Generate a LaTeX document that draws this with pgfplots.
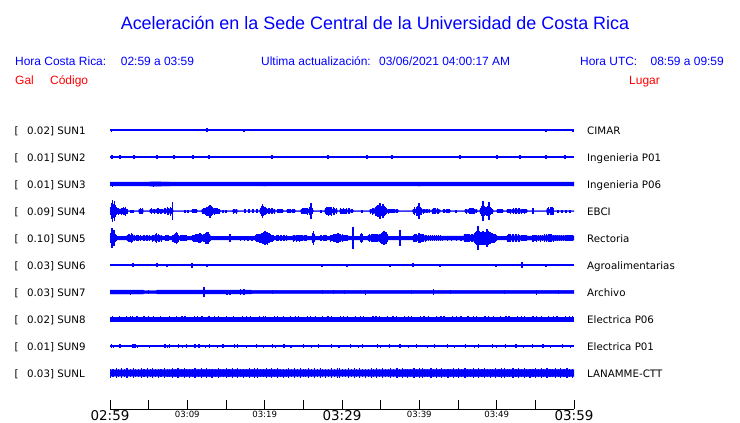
\documentclass[border=0pt]{standalone}
\usepackage{fontspec}
\setmainfont{Liberation Sans}
\newfontfamily\dv{DejaVu Sans}
\usepackage{pgfplots}
\pgfplotsset{compat=1.18}
\usepackage{pgfplotstable}
\usepgfplotslibrary{fillbetween}
\definecolor{tblue}{RGB}{0,0,255}
\definecolor{tred}{RGB}{255,0,0}

% t = minutes after 02:59 ; a = half amplitude (px)
% ---- cores (solid band of each trace) ----
\pgfplotstableread[row sep=\\]{t a\\ 0 0.45\\ 60 0.45\\}\coreThin
\pgfplotstableread[row sep=\\]{t a\\ 0 2.0\\ 4 1.8\\ 5.5 2.1\\ 10 1.9\\ 20 2.0\\ 30 1.9\\ 40 2.0\\ 50 1.9\\ 60 2.0\\}\coreC
\pgfplotstableread[row sep=\\]{t a\\
0 2.5\\ 0.3 4\\ 0.7 3.5\\ 1.0 2\\ 2.2 2\\ 2.33 0.5\\ 3.69 0.5\\ 3.75 1.5\\ 4.27 1.5\\ 4.33 0.5\\ 5.11 0.5\\ 5.17 1.5\\ 7.2 1.5\\ 7.5 2.2\\ 8.0 2.2\\ 8.2 0.5\\
10.54 0.5\\ 10.6 1\\ 11.25 1\\ 11.31 0.5\\ 11.83 0.5\\ 11.9 1.5\\ 12.6 2.5\\ 13.1 3\\ 13.6 2\\ 14.22 1.2\\ 14.29 0.5\\ 15.84 0.5\\ 15.91 1.3\\ 16.42 1.3\\ 16.49 0.5\\
19.33 0.5\\ 19.4 1.5\\ 19.75 3\\ 20.1 2\\ 21.34 1.3\\ 21.4 0.5\\ 21.53 0.5\\ 21.6 1\\ 22.37 1\\ 22.44 0.5\\ 22.82 0.5\\ 22.89 1\\ 23.92 1\\ 23.99 0.5\\
24.63 0.5\\ 24.7 1.3\\ 25.9 2\\ 26.25 1\\ 26.32 0.5\\ 27.74 0.5\\ 27.8 1.5\\ 28.4 2.3\\ 29.35 1.5\\ 29.42 0.5\\ 29.68 0.5\\ 29.74 1.5\\ 31.42 1\\ 31.49 0.5\\
33.56 0.5\\ 33.62 1.3\\ 34.7 3\\ 35.3 3\\ 35.95 1.3\\ 37.24 1\\ 37.31 0.5\\ 39.12 0.5\\ 39.18 1.3\\ 39.9 2.5\\ 40.4 1.5\\ 41.38 1\\ 41.44 0.5\\
41.57 0.5\\ 41.64 1.3\\ 42.67 1.3\\ 42.74 0.5\\ 43.00 0.5\\ 43.06 1\\ 43.97 1\\ 44.03 0.5\\ 45.84 0.5\\ 45.91 1\\ 46.8 1.5\\ 47.46 1.2\\ 47.52 0.5\\
47.78 0.5\\ 47.85 1.5\\ 48.3 3.5\\ 48.9 3\\ 49.53 1.2\\ 49.59 0.5\\ 49.98 0.5\\ 50.04 1\\ 50.82 1\\ 50.88 0.5\\ 51.27 0.5\\ 51.34 1\\ 52.5 1.5\\ 53.92 1\\ 53.99 0.5\\
56.44 0.5\\ 56.51 1.8\\ 57.28 1.8\\ 57.35 0.5\\ 60 0.5\\}\coreD
\pgfplotstableread[row sep=\\]{t a\\
0 3\\ 0.3 5\\ 0.6 3.5\\ 0.85 1.8\\ 2.13 1.8\\ 2.2 2.2\\ 2.7 2.8\\ 3.2 2.0\\ 3.3 1.8\\ 4.2 1.8\\ 4.3 2.0\\ 5.17 2.0\\ 5.24 1.8\\ 5.36 1.8\\ 5.45 2.2\\ 6.1 2.8\\ 6.79 1.8\\
8.08 1.8\\ 8.2 2.5\\ 8.55 3.2\\ 8.86 1.8\\ 10.54 1.8\\ 10.6 2.0\\ 11.6 2.8\\ 12.5 3.3\\ 13.06 2\\ 13.13 1.8\\ 18.69 1.8\\ 18.8 2.2\\ 20.0 3.5\\ 21.1 1.8\\
23.6 1.8\\ 23.66 2.2\\ 25.47 2\\ 25.54 1.8\\ 26.06 1.8\\ 26.3 3\\ 26.57 1.8\\ 28.39 1.8\\ 28.5 2.2\\ 29.5 2.8\\ 30.6 2\\ 30.97 1.8\\
33.30 1.8\\ 33.4 2.2\\ 35.4 3.5\\ 36.01 1.8\\ 39.12 1.8\\ 39.2 2.2\\ 40.0 2.8\\ 41.0 2.0\\ 45.65 2.0\\ 46.0 2.5\\ 47.5 3.5\\ 48.8 3.8\\ 49.8 2.5\\ 50.11 1.8\\
51.28 1.8\\ 51.34 2.2\\ 53.9 2.0\\ 54.7 2.0\\ 56.9 2.4\\ 60 2.1\\}\coreE
\pgfplotstableread[row sep=\\]{t a\\ 0 2.0\\ 4.3 2.0\\ 4.4 1.5\\ 6.0 1.5\\ 6.1 1.9\\ 18 1.9\\ 18.5 1.7\\ 60 1.7\\}\coreG
\pgfplotstableread[row sep=\\]{t a\\ 0 1.7\\ 60 1.7\\}\coreH
\pgfplotstableread[row sep=\\]{t a\\ 0 0.55\\ 60 0.55\\}\coreI
\pgfplotstableread[row sep=\\]{t a\\ 0 3.2\\ 15 3.4\\ 30 3.2\\ 45 3.4\\ 60 3.3\\}\coreL

% ---- spikes (vertical strokes) ----
\pgfplotstableread[row sep=\\]{t a\\ 0.15 1.5\\ 12.54 1.6\\ 17.33 1.5\\ 23.79 1.3\\ 33.23 1.3\\ 40.09 1.3\\ 48.75 1.3\\ 56.38 1.5\\ 59.87 1.5\\}\spA
\pgfplotstableread[row sep=\\]{t a\\
0.2 1.6\\ 0.3 1.6\\ 1.24 1.6\\ 1.34 1.6\\ 3.05 1.6\\ 3.15 1.6\\ 6.03 1.6\\ 6.13 1.6\\ 8.23 1.6\\ 8.33 1.6\\ 10.68 1.6\\ 10.78 1.6\\
12.75 1.6\\ 12.85 1.6\\ 20.90 1.6\\ 21.0 1.6\\ 28.14 1.6\\ 28.24 1.6\\ 33.18 1.6\\ 33.28 1.6\\ 36.42 1.6\\ 36.52 1.6\\ 45.21 1.6\\ 45.31 1.6\\
49.99 1.6\\ 50.09 1.6\\ 52.97 1.6\\ 53.07 1.6\\ 56.33 1.6\\ 56.43 1.6\\ 58.79 1.6\\ 58.89 1.6\\}\spB
\pgfplotstableread[row sep=\\]{t a\\ 0.3 2.5\\ 1.5 2.4\\ 5.6 2.5\\ 5.8 2.4\\ 13 2.3\\ 25 2.3\\ 37 2.3\\ 49 2.4\\}\spC
\pgfplotstableread[row sep=\\]{t a\\
0.05 4\\ 0.2 8\\ 0.35 11\\ 0.45 7\\ 0.55 10\\ 0.7 6\\ 0.85 4\\ 1.0 3\\ 1.15 3.5\\ 1.3 2.5\\ 1.45 3.5\\ 1.6 3\\ 1.75 4\\ 1.9 3.5\\ 2.05 4.5\\ 2.2 2.5\\
2.72 1.5\\ 2.97 1.5\\ 3.8 2.5\\ 3.95 3\\ 4.1 2.5\\ 4.25 3\\
5.2 2\\ 5.4 2.8\\ 5.6 2\\ 5.8 2.5\\ 6.0 2.2\\ 6.2 2.8\\ 6.4 2\\ 6.6 2.5\\ 6.8 2.3\\ 7.0 2.6\\ 7.2 3\\ 7.4 4\\ 7.6 3.5\\ 7.8 4.5\\ 7.95 3\\ 8.06 9\\
9.7 1.5\\ 10.09 1.5\\ 10.65 2\\ 10.85 1.8\\ 11.05 2\\ 11.2 1.7\\
11.95 2.5\\ 12.15 3\\ 12.35 3.5\\ 12.55 4.5\\ 12.75 5\\ 12.93 6.5\\ 13.1 5\\ 13.3 4\\ 13.5 3.5\\ 13.7 3\\ 13.9 3.2\\ 14.1 2.5\\
14.61 1.5\\ 15.0 1.5\\ 15.95 2.5\\ 16.15 2\\ 16.35 2.5\\ 17.46 2\\ 17.97 2\\ 18.49 2\\ 19.01 2\\
19.45 3\\ 19.6 5\\ 19.75 7\\ 19.9 5\\ 20.05 4\\ 20.25 3\\ 20.45 3.2\\ 20.65 2.8\\ 20.85 3.2\\ 21.05 3\\ 21.25 2.5\\
21.65 2\\ 21.85 1.6\\ 22.05 2\\ 22.25 1.8\\ 22.95 2\\ 23.15 1.7\\ 23.35 2\\ 23.55 1.8\\ 23.8 2\\
24.75 2.5\\ 24.95 2.8\\ 25.15 3\\ 25.35 3.2\\ 25.55 3.5\\ 25.75 4\\ 25.99 8\\ 26.15 3\\ 27.28 1.5\\
27.85 3\\ 28.05 3.8\\ 28.25 4.5\\ 28.45 4\\ 28.65 4.5\\ 28.85 4\\ 29.05 3.5\\ 29.25 3\\
29.8 3\\ 30.0 2.5\\ 30.2 2.8\\ 30.4 2.5\\ 30.6 3\\ 30.8 2.6\\ 31.0 3\\ 31.2 2.4\\ 31.4 2\\ 32.59 1.5\\
33.7 2.5\\ 33.9 3.5\\ 34.1 3\\ 34.3 4.5\\ 34.5 5\\ 34.66 6\\ 34.8 5\\ 34.91 8\\ 35.05 5\\ 35.2 6\\ 35.3 7\\ 35.45 5\\ 35.6 4\\ 35.8 3\\ 36.0 2.5\\ 36.2 2\\ 36.4 1.8\\ 36.6 2\\ 36.8 1.7\\ 37.0 2\\ 37.2 1.8\\
39.2 2.5\\ 39.4 4\\ 39.6 4.5\\ 39.8 5\\ 39.96 8\\ 40.1 4\\ 40.3 3.5\\ 40.5 2.5\\ 40.7 2\\ 40.9 1.8\\ 41.1 2\\ 41.3 1.7\\
41.7 2.5\\ 41.9 2.8\\ 42.1 3\\ 42.3 2.6\\ 42.5 2.5\\ 43.1 2\\ 43.3 1.7\\ 43.5 2\\ 43.7 1.8\\ 43.9 2\\ 44.74 1.5\\
45.95 2\\ 46.15 2.5\\ 46.35 2.2\\ 46.55 2.8\\ 46.75 3\\ 46.95 2.6\\ 47.15 2.5\\ 47.35 2.2\\
47.9 3\\ 48.1 5\\ 48.23 10\\ 48.4 5\\ 48.6 4\\ 48.75 4.5\\ 48.88 5\\ 49.01 9\\ 49.15 4\\ 49.3 3\\ 49.5 2.5\\
50.1 2\\ 50.3 1.7\\ 50.5 2\\ 50.7 1.8\\ 51.4 2\\ 51.6 2.3\\ 51.8 2.5\\ 52.0 2.2\\ 52.2 2.8\\ 52.4 3\\ 52.6 2.6\\ 52.8 3\\ 53.0 2.7\\ 53.2 2.5\\ 53.4 2.2\\ 53.6 2.5\\ 53.8 2\\
54.70 3\\ 56.55 3.5\\ 56.75 4\\ 56.95 3.6\\ 57.15 4\\ 57.3 3.5\\ 57.93 1.5\\ 58.45 1.5\\ 58.97 1.5\\ 59.48 1.5\\}\spD
\pgfplotstableread[row sep=\\]{t a\\
0.05 5\\ 0.15 9\\ 0.27 10\\ 0.4 6\\ 0.52 8\\ 0.65 4\\ 0.78 3\\
2.25 3\\ 2.45 4\\ 2.6 3.5\\ 2.75 5\\ 2.95 4\\ 3.15 3\\ 3.5 3\\ 3.7 2.6\\ 3.9 3\\ 4.3 3\\ 4.5 2.6\\ 4.7 3.2\\ 4.9 2.7\\ 5.1 3\\
5.45 3.5\\ 5.65 3\\ 5.85 4\\ 6.05 5\\ 6.25 4\\ 6.45 3.5\\ 6.65 3.5\\ 7.15 3\\ 7.35 2.6\\ 7.5 3\\
8.15 3.5\\ 8.3 4.5\\ 8.45 5\\ 8.55 6\\ 8.7 5\\ 8.8 3.5\\ 9.1 3\\ 9.3 2.6\\ 9.5 3\\ 9.7 2.7\\ 9.9 3\\
10.65 3\\ 10.85 3.5\\ 11.05 4\\ 11.25 3.6\\ 11.45 4.5\\ 11.65 5\\ 11.85 4\\ 12.05 3.6\\ 12.25 4\\ 12.42 5.5\\ 12.54 6\\ 12.67 6\\ 12.85 4\\ 13.0 2.5\\
15.52 4\\ 16.85 2.5\\ 17.1 2.3\\ 17.35 2.5\\ 17.6 2.3\\ 17.85 2.5\\ 18.1 2.3\\ 18.35 2.5\\
18.8 3\\ 19.0 3.6\\ 19.2 4\\ 19.4 4.5\\ 19.55 5\\ 19.7 5.5\\ 19.8 6\\ 19.95 6.5\\ 20.05 7\\ 20.2 6\\ 20.35 6.5\\ 20.5 5\\ 20.65 5.2\\ 20.8 4\\ 20.95 3.5\\ 21.1 3\\
21.6 3\\ 21.8 2.6\\ 22.0 3\\ 22.2 2.7\\ 22.4 3\\ 22.6 2.6\\ 22.85 3\\
23.7 3.5\\ 23.9 3\\ 24.1 3.5\\ 24.3 3.2\\ 24.5 3.5\\ 24.7 3\\ 24.9 3.2\\ 25.1 2.8\\ 25.3 3\\ 25.45 2.7\\
26.15 5\\ 26.31 7\\ 26.45 4\\ 27.2 3\\ 27.4 2.6\\ 27.6 3\\ 27.8 2.7\\ 28.0 3\\
28.5 3.5\\ 28.7 3.2\\ 28.9 4\\ 29.1 3.6\\ 29.3 4.5\\ 29.48 5\\ 29.65 4.2\\ 29.85 4\\ 30.05 3.6\\ 30.25 3\\ 30.45 3.2\\ 30.65 3\\
31.42 11\\ 32.35 4\\ 32.52 5\\ 32.7 4\\
33.4 3\\ 33.6 3.6\\ 33.8 4\\ 34.0 3.6\\ 34.2 4\\ 34.4 3.8\\ 34.6 4.2\\ 34.8 4\\ 34.95 4.5\\ 35.1 5.5\\ 35.2 6\\ 35.35 6.5\\ 35.43 7\\ 35.55 5.5\\ 35.7 6\\ 35.85 4\\
37.50 8\\ 39.25 3.5\\ 39.45 3.6\\ 39.65 4\\ 39.85 4.5\\ 39.96 5\\ 40.15 4.5\\ 40.35 4\\ 40.55 4\\ 40.75 3.5\\ 40.95 3\\
41.2 3\\ 41.45 2.7\\ 41.7 3\\ 41.95 2.7\\ 42.2 3\\ 42.45 2.7\\ 42.7 3\\ 43.0 2.5\\ 43.3 2.3\\ 43.6 2.5\\ 43.9 2.3\\ 44.2 2.5\\ 44.5 2.3\\ 44.8 2.5\\ 45.1 2.3\\ 45.4 2.5\\
45.9 4\\ 46.1 3.6\\ 46.3 4\\ 46.5 3.8\\ 46.7 4\\ 46.9 4.2\\ 47.1 5\\ 47.3 6\\ 47.46 7\\ 47.59 12\\ 47.72 7\\ 47.85 6\\ 47.97 6.5\\ 48.1 6\\ 48.23 7\\ 48.36 6\\ 48.49 6.5\\ 48.62 6\\ 48.75 9\\ 48.88 7\\ 49.0 6\\ 49.14 6\\ 49.3 5\\ 49.5 5\\ 49.65 4.5\\ 49.8 4\\ 49.95 3\\
51.4 3.5\\ 51.6 3.8\\ 51.8 4\\ 52.0 3.7\\ 52.2 4\\ 52.4 3.8\\ 52.6 4\\ 52.8 3.6\\ 53.0 3.5\\ 53.2 3.2\\ 53.4 3\\ 53.6 3.2\\ 53.8 3\\
54.7 3.5\\ 54.95 3.2\\ 55.2 3.5\\ 55.45 3.2\\ 55.7 3.5\\ 55.95 3.4\\ 56.2 3.7\\ 56.45 4\\ 56.7 3.8\\ 56.9 4\\ 57.1 3.6\\ 57.3 3.5\\
57.6 3\\ 57.85 2.8\\ 58.1 3\\ 58.35 2.8\\ 58.6 3\\ 58.85 2.8\\ 59.1 3\\ 59.35 2.8\\ 59.6 3\\ 59.85 3.2\\}\spE
\pgfplotstableread[row sep=\\]{t a\\
2.92 2.0\\ 3.02 2.0\\ 6.03 2.0\\ 6.13 2.0\\ 7.37 1.5\\ 10.55 2.5\\ 10.65 2.5\\ 12.54 1.5\\ 18.10 1.3\\ 23.79 1.3\\ 27.41 1.5\\ 30.65 1.5\\
36.21 1.5\\ 39.13 1.8\\ 39.23 1.8\\ 42.67 1.5\\ 49.91 1.5\\ 53.18 2.8\\ 53.28 2.8\\ 53.38 2.8\\ 56.38 1.5\\ 58.97 1.3\\}\spF
\pgfplotstableread[row sep=\\]{t a\\
1.2 2.4\\ 2.6 2.5\\ 5 2\\ 12.16 5\\ 15.13 2.5\\ 15.52 2.5\\ 16.9 3\\ 17.3 3\\ 17.4 2.8\\ 21 2.2\\ 27.5 2.2\\ 28.9 2.1\\ 30.3 2.3\\ 33 2.5\\ 39 2.2\\ 41.8 2.8\\ 44 2.2\\ 51 2.4\\ 55.2 2.5\\ 58 2.2\\}\spG
\pgfplotstableread[row sep=\\]{t a\\
0.3 3\\ 0.7 2.5\\ 1.2 3.2\\ 1.5 2.4\\ 2.1 3\\ 2.6 3.3\\ 2.9 2.6\\ 3.5 3\\ 4.1 2.4\\ 4.4 3.2\\ 5.0 2.6\\ 5.6 3\\ 6.1 2.4\\ 6.5 3.3\\ 7.2 2.5\\ 7.7 3\\ 8.0 2.4\\ 8.6 3.1\\ 9.3 2.6\\ 9.7 3.3\\
10.2 2.4\\ 10.9 3\\ 11.3 2.6\\ 11.9 3.2\\ 12.4 2.4\\ 12.8 3\\ 13.5 2.6\\ 14.0 3.3\\ 14.4 2.4\\ 15.1 3\\ 15.6 2.5\\ 16.0 3.2\\ 16.7 2.4\\ 17.1 3\\ 17.6 2.6\\ 18.2 3.3\\ 18.6 2.4\\ 19.3 3\\ 19.8 2.6\\
20.1 3.1\\ 20.8 2.4\\ 21.3 3\\ 21.7 2.6\\ 22.4 3.3\\ 22.9 2.4\\ 23.3 3\\ 24.0 2.6\\ 24.4 3.2\\ 25.0 2.4\\ 25.5 3\\ 25.9 2.6\\ 26.6 3.3\\ 27.1 2.4\\ 27.5 3\\ 28.2 2.6\\ 28.6 3.1\\ 29.1 2.4\\ 29.8 3\\
30.2 2.6\\ 30.7 3.3\\ 31.3 2.4\\ 31.7 3\\ 32.4 2.6\\ 32.8 3.2\\ 33.3 2.4\\ 34.0 3\\ 34.4 2.6\\ 34.9 3.3\\ 35.5 2.4\\ 35.9 3\\ 36.6 2.6\\ 37.0 3.1\\ 37.5 2.4\\ 38.1 3\\ 38.6 2.6\\ 39.0 3.3\\ 39.7 2.4\\
40.1 3\\ 40.6 2.6\\ 41.2 3.2\\ 41.7 2.4\\ 42.2 3\\ 42.8 2.6\\ 43.2 3.3\\ 43.9 2.4\\ 44.3 3\\ 44.8 2.6\\ 45.4 3.1\\ 45.9 2.4\\ 46.3 3\\ 47.0 2.6\\ 47.4 3.3\\ 48.0 2.4\\ 48.5 3\\ 48.9 2.6\\ 49.6 3.2\\
50.1 2.4\\ 50.5 3\\ 51.2 2.6\\ 51.6 3.3\\ 52.1 2.4\\ 52.7 3\\ 53.2 2.6\\ 53.6 3.1\\ 54.3 2.4\\ 54.7 3\\ 55.2 2.6\\ 55.8 3.3\\ 56.3 2.4\\ 56.7 3\\ 57.4 2.6\\ 57.8 3.2\\ 58.3 2.4\\ 58.9 3\\ 59.4 2.6\\ 59.8 3\\}\spH
\pgfplotstableread[row sep=\\]{t a\\
0.2 1.8\\ 0.5 1.5\\ 1.3 1.6\\ 2.9 1.8\\ 3.1 2.0\\ 3.3 1.7\\ 3.6 1.5\\ 5.1 1.5\\ 5.9 1.4\\ 7.1 1.8\\ 7.4 1.5\\ 7.7 1.7\\ 8.0 1.4\\ 8.9 1.6\\ 9.4 1.5\\ 9.9 1.8\\ 10.3 1.4\\ 11.0 1.6\\ 11.5 1.8\\
12.4 1.5\\ 12.9 1.7\\ 13.9 1.5\\ 14.6 1.8\\ 15.2 1.4\\ 16.1 1.6\\ 16.5 1.8\\ 17.6 1.5\\ 18.5 1.4\\ 18.9 1.7\\ 19.9 1.5\\ 21.0 1.8\\ 21.4 1.5\\ 22.5 1.6\\ 23.4 1.5\\ 24.5 1.4\\ 25.0 1.8\\
26.1 1.5\\ 27.0 1.6\\ 27.4 1.4\\ 28.6 1.8\\ 29.6 1.5\\ 30.0 1.4\\ 31.1 1.6\\ 32.1 1.5\\ 32.6 1.8\\ 33.5 1.4\\ 34.6 1.6\\ 35.0 1.5\\ 36.1 1.8\\ 37.0 1.4\\ 37.5 1.6\\ 38.6 1.5\\ 39.6 1.8\\
40.0 1.4\\ 41.1 1.5\\ 42.0 1.6\\ 42.4 1.4\\ 43.6 1.8\\ 44.5 1.5\\ 45.0 1.4\\ 46.0 1.6\\ 47.1 1.5\\ 47.6 1.8\\ 48.5 1.4\\ 49.5 1.6\\ 50.0 1.5\\ 51.1 1.8\\ 52.1 1.4\\ 52.5 1.6\\ 53.5 1.5\\
54.6 1.8\\ 55.1 1.4\\ 56.0 1.6\\ 57.0 1.5\\ 57.5 1.4\\ 58.5 1.6\\ 59.5 1.5\\}\spI
\pgfplotstableread[row sep=\\]{t a\\
0.1 4.5\\ 0.4 3.8\\ 0.8 5\\ 1.1 4.2\\ 1.5 4.8\\ 1.9 3.9\\ 2.2 4.6\\ 2.6 4\\ 3.0 5\\ 3.3 3.8\\ 3.7 4.4\\ 4.1 4.8\\ 4.4 3.9\\ 4.8 4.6\\ 5.2 4\\ 5.5 5\\ 5.9 3.8\\ 6.3 4.5\\ 6.6 4.1\\ 7.0 4.8\\
7.4 3.9\\ 7.7 4.4\\ 8.1 5\\ 8.5 4\\ 8.8 4.6\\ 9.2 3.8\\ 9.6 4.8\\ 9.9 4.2\\ 10.3 4.5\\ 10.7 3.9\\ 11.0 5\\ 11.4 4\\ 11.8 4.6\\ 12.1 4.2\\ 12.5 4.8\\ 12.9 3.8\\ 13.2 4.5\\ 13.6 4.1\\ 14.0 5\\
14.3 3.9\\ 14.7 4.4\\ 15.1 4.8\\ 15.4 4\\ 15.8 4.6\\ 16.2 3.8\\ 16.5 5\\ 16.9 4.2\\ 17.3 4.5\\ 17.6 3.9\\ 18.0 4.8\\ 18.4 4\\ 18.7 4.6\\ 19.1 5\\ 19.5 3.8\\ 19.8 4.4\\ 20.2 4.8\\ 20.6 4\\
20.9 4.6\\ 21.3 3.9\\ 21.7 5\\ 22.0 4.2\\ 22.4 4.5\\ 22.8 3.8\\ 23.1 4.8\\ 23.5 4.1\\ 23.9 4.6\\ 24.2 4\\ 24.6 5\\ 25.0 3.9\\ 25.3 4.4\\ 25.7 4.8\\ 26.1 4\\ 26.4 4.6\\ 26.8 3.8\\ 27.2 5\\
27.5 4.2\\ 27.9 4.5\\ 28.3 3.9\\ 28.6 4.8\\ 29.0 4\\ 29.4 4.6\\ 29.7 5\\ 30.1 3.8\\ 30.5 4.4\\ 30.8 4.8\\ 31.2 4\\ 31.6 4.6\\ 31.9 3.9\\ 32.3 5\\ 32.7 4.2\\ 33.0 4.5\\ 33.4 3.8\\ 33.8 4.8\\
34.1 4.1\\ 34.5 4.6\\ 34.9 4\\ 35.2 5\\ 35.6 3.9\\ 36.0 4.4\\ 36.3 4.8\\ 36.7 4\\ 37.1 4.6\\ 37.4 3.8\\ 37.8 5\\ 38.2 4.2\\ 38.5 4.5\\ 38.9 3.9\\ 39.3 4.8\\ 39.6 4\\ 40.0 4.6\\ 40.4 5\\
40.7 3.8\\ 41.1 4.4\\ 41.5 4.8\\ 41.8 4\\ 42.2 4.6\\ 42.6 3.9\\ 42.9 5\\ 43.3 4.2\\ 43.7 4.5\\ 44.0 3.8\\ 44.4 4.8\\ 44.8 4.1\\ 45.1 4.6\\ 45.5 4\\ 45.9 5\\ 46.2 3.9\\ 46.6 4.4\\ 47.0 4.8\\
47.3 4\\ 47.7 4.6\\ 48.1 3.8\\ 48.4 5\\ 48.8 4.2\\ 49.2 4.5\\ 49.5 3.9\\ 49.9 4.8\\ 50.3 4\\ 50.6 4.6\\ 51.0 5\\ 51.4 3.8\\ 51.7 4.4\\ 52.1 4.8\\ 52.5 4\\ 52.8 4.6\\ 53.2 3.9\\ 53.6 5\\
53.9 4.2\\ 54.3 4.5\\ 54.7 3.8\\ 55.0 4.8\\ 55.4 4.1\\ 55.8 4.6\\ 56.1 4\\ 56.5 5\\ 56.9 3.9\\ 57.2 4.4\\ 57.6 4.8\\ 58.0 4\\ 58.3 4.6\\ 58.7 3.8\\ 59.1 5\\ 59.4 4.2\\ 59.8 4.5\\}\spL

% #1 name, #2 baseline (negative px), #3 core table, #4 spike table
\newcommand{\trace}[4]{%
  \addplot[name path=#1u, tblue, line width=0.4pt] table[x=t, y expr={#2+\thisrow{a}}] {#3};
  \addplot[name path=#1l, tblue, line width=0.4pt] table[x=t, y expr={#2-\thisrow{a}}] {#3};
  \addplot[fill=tblue, draw=none] fill between[of=#1u and #1l];
  \addplot[draw=none, mark=none, error bars/.cd, y dir=both, y explicit, error mark=none,
    error bar style={draw=tblue, line width=1.2bp, solid}] table[x=t, y expr={#2}, y error=a] {#4};
}

\newcommand{\rowlabel}[4]{% y baseline px, value, code, place
  \node[anchor=base west, inner sep=0pt, font=\dv\fontsize{10.3}{12}\selectfont] at (14.5bp,-#1bp) {[};
  \node[anchor=base west, inner sep=0pt, font=\dv\fontsize{10.3}{12}\selectfont] at (27bp,-#1bp) {#2] #3};
  \node[anchor=base west, inner sep=0pt, font=\dv\fontsize{10.3}{12}\selectfont] at (587bp,-#1bp) {#4};
}

\begin{document}
\begin{tikzpicture}
\path (0,0) rectangle (740bp,-423bp);
\begin{axis}[
  at={(110bp,-409bp)}, anchor=south west,
  scale only axis, width=464bp, height=309bp,
  xmin=0, xmax=60, ymin=-409, ymax=-100,
  axis x line=bottom, axis y line=none,
  axis line style={-, black, line width=0.8pt},
  xtick={0,5,...,60},
  xticklabels={{\fontsize{13.5}{14}\selectfont 02:59},,{03:09},,{03:19},,{\fontsize{13.5}{14}\selectfont 03:29},,{03:39},,{03:49},,{\fontsize{13.5}{14}\selectfont 03:59}},
  xticklabel style={font=\dv\fontsize{8.6}{9}\selectfont, inner sep=1.5bp, anchor=north},
  tick align=inside, major tick length=9bp,
  tick style={black, line width=0.8pt},
  ytick=\empty,
]
\trace{a}{-130}{\coreThin}{\spA}
\trace{b}{-157}{\coreThin}{\spB}
\trace{c}{-184}{\coreC}{\spC}
\trace{d}{-211}{\coreD}{\spD}
\trace{e}{-238}{\coreE}{\spE}
\trace{f}{-265}{\coreThin}{\spF}
\trace{g}{-292}{\coreG}{\spG}
\trace{h}{-319}{\coreH}{\spH}
\trace{i}{-346}{\coreI}{\spI}
\trace{l}{-373}{\coreL}{\spL}
\end{axis}

\node[anchor=base, inner sep=0pt, text=tblue, font=\fontsize{18}{20}\selectfont] at (375bp,-29bp) {Aceleración en la Sede Central de la Universidad de Costa Rica};
\begin{scope}[every node/.style={anchor=base west, inner sep=0pt, text=tblue, font=\fontsize{12}{14}\selectfont}]
\node at (15bp,-65bp) {Hora Costa Rica:};
\node at (120.7bp,-65bp) {02:59 a 03:59};
\node at (261bp,-65bp) {Ultima actualización:};
\node at (379bp,-65bp) {03/06/2021 04:00:17 AM};
\node at (580bp,-65bp) {Hora UTC:};
\node[anchor=base east] at (724bp,-65bp) {08:59 a 09:59};
\node[text=tred] at (15bp,-84.5bp) {Gal};
\node[text=tred] at (50bp,-84.5bp) {Código};
\node[text=tred] at (629bp,-84.5bp) {Lugar};
\end{scope}

\rowlabel{134}{0.02}{SUN1}{CIMAR}
\rowlabel{161}{0.01}{SUN2}{Ingenieria P01}
\rowlabel{188}{0.01}{SUN3}{Ingenieria P06}
\rowlabel{215}{0.09}{SUN4}{EBCI}
\rowlabel{242}{0.10}{SUN5}{Rectoria}
\rowlabel{269}{0.03}{SUN6}{Agroalimentarias}
\rowlabel{296}{0.03}{SUN7}{Archivo}
\rowlabel{323}{0.02}{SUN8}{Electrica P06}
\rowlabel{350}{0.01}{SUN9}{Electrica P01}
\rowlabel{377}{0.03}{SUNL}{LANAMME-CTT}
\end{tikzpicture}
\end{document}
